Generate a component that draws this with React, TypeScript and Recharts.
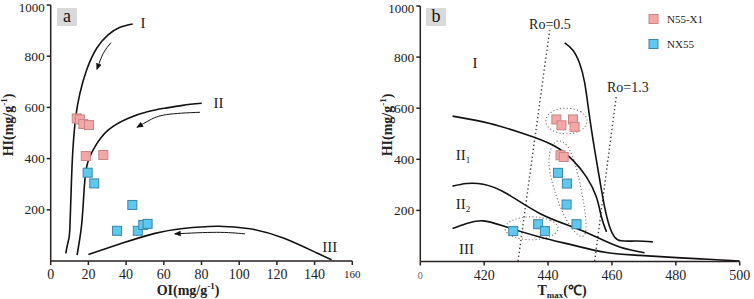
import React from 'react';
import { ComposedChart, Line, Scatter, XAxis, YAxis, ReferenceDot } from 'recharts';

// ---------- shared ----------
const hiTicks = [200, 400, 600, 800, 1000];
const oiTicks = [0, 20, 40, 60, 80, 100, 120, 140, 160];
const tmaxTicks = [400, 420, 440, 460, 480, 500];

// ---------- panel a : HI vs OI ----------
const aN55X1 = [
  { x: 13.8, y: 557 }, { x: 15.5, y: 553 }, { x: 17.3, y: 535 }, { x: 20.3, y: 531 },
  { x: 18.6, y: 410 }, { x: 27.9, y: 414 },
];
const aNX55 = [
  { x: 19.6, y: 345 }, { x: 23.1, y: 303 }, { x: 43.3, y: 219 }, { x: 35.2, y: 118 },
  { x: 46.2, y: 118 }, { x: 49.1, y: 141 }, { x: 51.4, y: 145 },
];
const aTypeI = [
  { x: 8.0, y: 30 }, { x: 9.4, y: 80 }, { x: 10.2, y: 134 }, { x: 11.1, y: 330 }, { x: 12.0, y: 460 },
  { x: 13.3, y: 564 }, { x: 15.5, y: 655 }, { x: 19.1, y: 747 }, { x: 24.4, y: 831 },
  { x: 30.6, y: 884 }, { x: 36.8, y: 913 }, { x: 43.5, y: 926 },
];
const aTypeII = [
  { x: 14.0, y: 23 }, { x: 16.3, y: 134 }, { x: 17.5, y: 252 }, { x: 19.1, y: 369 },
  { x: 23.5, y: 447 }, { x: 30.6, y: 512 }, { x: 41.2, y: 558 }, { x: 51.8, y: 584 },
  { x: 60.7, y: 597 }, { x: 70, y: 608 }, { x: 80.1, y: 616 },
];
const aTypeIII = [
  { x: 20, y: 25 }, { x: 37.7, y: 69 }, { x: 55.3, y: 108 }, { x: 70.3, y: 127 },
  { x: 88, y: 136 }, { x: 105.6, y: 126 }, { x: 123.4, y: 90 }, { x: 141, y: 32 }, { x: 149, y: 5 },
];
const aArrowI = [{ x: 32, y: 853 }, { x: 27.9, y: 811 }, { x: 24.6, y: 750 }];
const aArrowII = [{ x: 79.2, y: 581 }, { x: 61.5, y: 572 }, { x: 52.7, y: 551 }, { x: 46, y: 523 }];
const aArrowIII = [{ x: 103, y: 106 }, { x: 88, y: 112 }, { x: 66, y: 106 }];
const aTypeLabels = [
  { x: 49, y: 930, text: 'I' },
  { x: 89, y: 620, text: 'II' },
  { x: 148, y: 54, text: 'III' },
];

// ---------- panel b : HI vs Tmax ----------
const bN55X1 = [
  { x: 442.6, y: 556 }, { x: 444.2, y: 533 }, { x: 447.8, y: 556 }, { x: 448.3, y: 527 },
  { x: 443.9, y: 416 }, { x: 444.9, y: 409 },
];
const bNX55 = [
  { x: 443.1, y: 347 }, { x: 445.9, y: 305 }, { x: 445.8, y: 223 }, { x: 448.9, y: 146 },
  { x: 436.9, y: 146 }, { x: 439.0, y: 119 }, { x: 429.1, y: 119 },
];
const bTypeI = [
  { x: 445.2, y: 856 }, { x: 447.8, y: 827 }, { x: 449.9, y: 775 }, { x: 451.5, y: 697 },
  { x: 453.0, y: 566 }, { x: 454.6, y: 436 }, { x: 456.2, y: 318 }, { x: 457.7, y: 214 },
  { x: 459.3, y: 135 }, { x: 460.8, y: 96 }, { x: 462.9, y: 81 }, { x: 467.7, y: 80 }, { x: 472.8, y: 77 },
];
const bTypeII1 = [
  { x: 410.1, y: 569 }, { x: 421.8, y: 540 }, { x: 432.2, y: 501 }, { x: 441.6, y: 455 },
  { x: 447.8, y: 396 }, { x: 452.0, y: 331 }, { x: 455.1, y: 253 }, { x: 456.7, y: 175 }, { x: 458.3, y: 116 },
];
const bTypeII2 = [
  { x: 410.1, y: 295 }, { x: 414.5, y: 305 }, { x: 419.7, y: 302 }, { x: 427.0, y: 266 },
  { x: 437.4, y: 188 }, { x: 447.8, y: 135 }, { x: 455.1, y: 96 }, { x: 462.4, y: 57 }, { x: 470.2, y: 34 },
];
const bTypeIII = [
  { x: 410.1, y: 129 }, { x: 414.5, y: 149 }, { x: 419.7, y: 159 }, { x: 427.0, y: 135 },
  { x: 437.4, y: 96 }, { x: 447.8, y: 64 }, { x: 458.3, y: 35 }, { x: 468.7, y: 24 },
  { x: 480.2, y: 15 }, { x: 490, y: 9 }, { x: 500, y: 2 },
];
const bRo05 = [{ x: 430.6, y: 2 }, { x: 440.5, y: 905 }];
const bRo13 = [{ x: 454.6, y: 2 }, { x: 461.4, y: 651 }];
const bEllipseTop = [
  { x: 452.9, y: 550 }, { x: 450.8, y: 590 }, { x: 445.75, y: 605 }, { x: 440.7, y: 590 },
  { x: 438.6, y: 550 }, { x: 440.7, y: 510 }, { x: 445.75, y: 495 }, { x: 450.8, y: 510 },
];
const bEllipseLow = [
  { x: 444.0, y: 130 }, { x: 441.3, y: 165 }, { x: 434.8, y: 180 }, { x: 428.3, y: 165 },
  { x: 425.6, y: 130 }, { x: 428.3, y: 95 }, { x: 434.8, y: 80 }, { x: 441.3, y: 95 },
];
const bEllipseLong = [
  { x: 441.8, y: 480 }, { x: 445.8, y: 470 }, { x: 448.5, y: 390 }, { x: 450.5, y: 280 },
  { x: 452.3, y: 145 }, { x: 451.4, y: 80 }, { x: 447.3, y: 125 }, { x: 444.2, y: 198 },
  { x: 441.5, y: 292 }, { x: 439.6, y: 400 },
];
const bTypeLabels = [
  { x: 417.1, y: 779, text: 'I', sub: '' },
  { x: 413.4, y: 416, text: 'II', sub: '1' },
  { x: 413.4, y: 227, text: 'II', sub: '2' },
  { x: 414.5, y: 51, text: 'III', sub: '' },
];
const bRoLabels = [
  { x: 440.6, y: 928, text: 'Ro=0.5' },
  { x: 465.0, y: 683, text: 'Ro=1.3' },
];
const legendItems = ['N55-X1', 'NX55'];

// ---------- styles ----------
const SERIF = "'Liberation Serif', 'Times New Roman', serif";
const AXIS = '#2a2020';
const PINK_FILL = '#f4a7a7';
const PINK_STROKE = '#c98585';
const BLUE_FILL = '#5ec8ef';
const BLUE_STROKE = '#3a86a8';

const makeSquare = (fill: string, stroke: string) => (p: any) => {
  const { cx, cy } = p;
  if (cx == null || cy == null) return <g />;
  return <rect x={cx - 4.5} y={cy - 4.5} width={9} height={9} fill={fill} stroke={stroke} strokeWidth={1} />;
};
const PinkSq = makeSquare(PINK_FILL, PINK_STROKE);
const BlueSq = makeSquare(BLUE_FILL, BLUE_STROKE);

const curve = (data: any[], key: string, extra: any = {}) => (
  <Line
    key={key}
    data={data}
    dataKey="y"
    type="natural"
    stroke="#111"
    strokeWidth={1.6}
    dot={false}
    activeDot={false}
    isAnimationActive={false}
    legendType="none"
    {...extra}
  />
);

const yTick = (p: any) => {
  const top = p.payload.value === 1000;
  return (
    <text x={p.x} y={p.y} dy={top ? 7 : 4.6} textAnchor="end" fontSize={top ? 13 : 13.5} fontFamily={SERIF} fill="#222">
      {p.payload.value}
    </text>
  );
};
const oiTick = (p: any) => {
  const last = p.payload.value === 160;
  return (
    <text x={p.x} y={p.y} dy={last ? 11 : 12} textAnchor="middle" fontSize={last ? 11 : 14} fontFamily={SERIF} fill="#222">
      {p.payload.value}
    </text>
  );
};
const tmaxTick = (p: any) => {
  const first = p.payload.value === 400;
  return (
    <text x={p.x} y={p.y} dy={first ? 11 : 12} textAnchor="middle" fontSize={first ? 10 : 14} fontFamily={SERIF} fill={first ? '#666' : '#222'}>
      {first ? '0' : p.payload.value}
    </text>
  );
};

const centerLabel = (text: string, sub: string, size: number) => (props: any) => {
  const vb = props.viewBox || {};
  const cx = (vb.x || 0) + (vb.width || 0) / 2;
  const cy = (vb.y || 0) + (vb.height || 0) / 2;
  return (
    <text x={cx} y={cy + size * 0.35} textAnchor="middle" fontSize={size} fontFamily={SERIF} fill="#222">
      {text}
      {sub ? <tspan fontSize={size * 0.6} dy={3}>{sub}</tspan> : null}
    </text>
  );
};

const arrowDefs = (id: string) => (
  <defs>
    <marker id={id} viewBox="0 0 10 10" refX="8" refY="5" markerWidth="7" markerHeight="7" orient="auto-start-reverse" markerUnits="userSpaceOnUse">
      <path d="M0,1 L10,5 L0,9 z" fill="#111" />
    </marker>
  </defs>
);

const HiTitle = ({ x, y }: { x: number; y: number }) => (
  <text x={x} y={y} transform={`rotate(-90, ${x}, ${y})`} textAnchor="middle" fontSize={14} fontWeight="bold" fontFamily={SERIF} fill="#222">
    HI(mg/g<tspan fontSize={9} dy={-6}>-1</tspan><tspan dy={6}>)</tspan>
  </text>
);

const PanelTag = ({ x, y, t }: { x: number; y: number; t: string }) => (
  <g>
    <rect x={x} y={y} width={20} height={18} fill="#d9d9d9" />
    <text x={x + 10} y={y + 14} textAnchor="middle" fontSize={18} fontFamily={SERIF} fill="#111">{t}</text>
  </g>
);

export default function App() {
  return (
    <div style={{ position: 'absolute', left: 0, top: 0, width: 754, height: 299, background: '#fff' }}>
      <div style={{ position: 'absolute', left: 0, top: 0 }}>
        <ComposedChart width={377} height={299} margin={{ top: 5, right: 24.7, bottom: 8, left: 10.7 }}>
          {arrowDefs('arrA')}
          <XAxis
            type="number" dataKey="x" domain={[0, 160]} ticks={oiTicks} interval={0}
            stroke={AXIS} strokeWidth={1.5} tickSize={4} tick={oiTick} height={30} allowDataOverflow
          />
          <YAxis
            type="number" dataKey="y" domain={[0, 1000]} ticks={hiTicks} interval={0}
            stroke={AXIS} strokeWidth={1.5} tickSize={4} tickMargin={2} tick={yTick} width={40} allowDataOverflow
          />
          {curve(aTypeI, 'aI')}
          {curve(aTypeII, 'aII')}
          {curve(aTypeIII, 'aIII')}
          {curve(aArrowI, 'arI', { strokeWidth: 1, markerEnd: 'url(#arrA)' })}
          {curve(aArrowII, 'arII', { strokeWidth: 1, markerEnd: 'url(#arrA)' })}
          {curve(aArrowIII, 'arIII', { strokeWidth: 1, markerEnd: 'url(#arrA)' })}
          <Scatter data={aN55X1} shape={PinkSq} isAnimationActive={false} />
          <Scatter data={aNX55} shape={BlueSq} isAnimationActive={false} />
          {aTypeLabels.map((l) => (
            <ReferenceDot key={l.text} x={l.x} y={l.y} r={0} fill="none" stroke="none" label={{ content: centerLabel(l.text, '', 15) }} />
          ))}
          <PanelTag x={57} y={8} t="a" />
          <HiTitle x={13} y={125} />
          <text x={188} y={295} textAnchor="middle" fontSize={14} fontWeight="bold" fontFamily={SERIF} fill="#222">
            OI(mg/g<tspan fontSize={9} dy={-6}>-1</tspan><tspan dy={6}>)</tspan>
          </text>
        </ComposedChart>
      </div>
      <div style={{ position: 'absolute', left: 377, top: 0 }}>
        <ComposedChart width={377} height={299} margin={{ top: 6, right: 14.3, bottom: 7.5, left: 3.3 }}>
          <XAxis
            type="number" dataKey="x" domain={[400, 500]} ticks={tmaxTicks} interval={0}
            stroke={AXIS} strokeWidth={1.5} tickSize={4} tick={tmaxTick} height={30} allowDataOverflow
          />
          <YAxis
            type="number" dataKey="y" domain={[0, 1000]} ticks={hiTicks} interval={0}
            stroke={AXIS} strokeWidth={1.5} tickSize={4} tickMargin={2} tick={yTick} width={40} allowDataOverflow
          />
          {curve(bRo05, 'ro05', { type: 'linear', stroke: '#444', strokeWidth: 1.4, strokeDasharray: '1.4 2.6' })}
          {curve(bRo13, 'ro13', { type: 'linear', stroke: '#444', strokeWidth: 1.4, strokeDasharray: '1.4 2.6' })}
          {curve(bEllipseTop, 'eT', { type: 'basisClosed', stroke: '#777', strokeWidth: 1.1, strokeDasharray: '1.2 2.2' })}
          {curve(bEllipseLow, 'eL', { type: 'basisClosed', stroke: '#777', strokeWidth: 1.1, strokeDasharray: '1.2 2.2' })}
          {curve(bEllipseLong, 'eG', { type: 'basisClosed', stroke: '#777', strokeWidth: 1.1, strokeDasharray: '1.2 2.2' })}
          {curve(bTypeI, 'bI')}
          {curve(bTypeII1, 'bII1')}
          {curve(bTypeII2, 'bII2')}
          {curve(bTypeIII, 'bIII')}
          <Scatter data={bN55X1} shape={PinkSq} isAnimationActive={false} />
          <Scatter data={bNX55} shape={BlueSq} isAnimationActive={false} />
          {bTypeLabels.map((l) => (
            <ReferenceDot key={l.text + l.sub} x={l.x} y={l.y} r={0} fill="none" stroke="none" label={{ content: centerLabel(l.text, l.sub, 15) }} />
          ))}
          {bRoLabels.map((l) => (
            <ReferenceDot key={l.text} x={l.x} y={l.y} r={0} fill="none" stroke="none" label={{ content: centerLabel(l.text, '', 14) }} />
          ))}
          <PanelTag x={49} y={8} t="b" />
          <HiTitle x={15} y={125} />
          <text x={185} y={295} textAnchor="middle" fontSize={14} fontWeight="bold" fontFamily={SERIF} fill="#222">
            T<tspan fontSize={9} dy={3}>max</tspan><tspan dy={-3}>(℃)</tspan>
          </text>
          {legendItems.map((name, i) => (
            <g key={name}>
              <rect x={272} y={14.5 + i * 25} width={9} height={9} fill={i === 0 ? PINK_FILL : BLUE_FILL} stroke={i === 0 ? PINK_STROKE : BLUE_STROKE} />
              <text x={290} y={23 + i * 25} fontSize={11} fontFamily={SERIF} fill="#222">{name}</text>
            </g>
          ))}
        </ComposedChart>
      </div>
    </div>
  );
}
